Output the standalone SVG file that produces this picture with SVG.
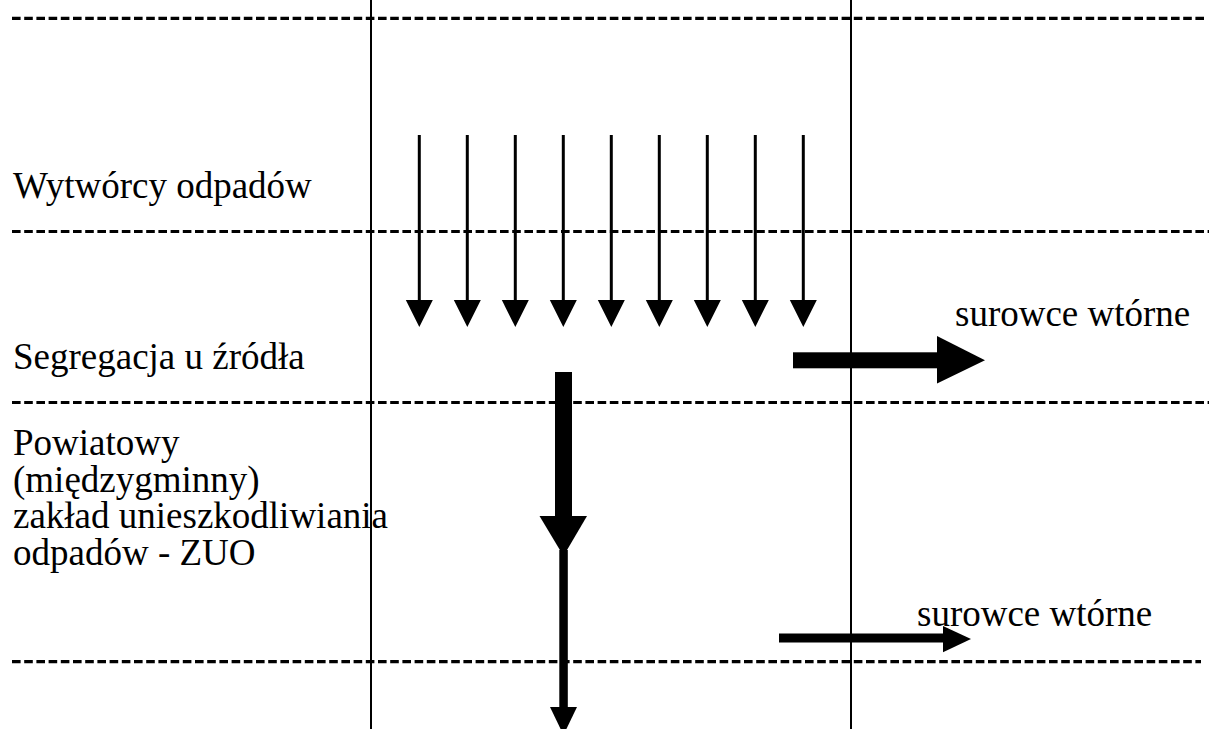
<svg xmlns="http://www.w3.org/2000/svg" width="1209" height="729" viewBox="0 0 1209 729">
<style>
.lbl{font-family:"Liberation Serif","Times New Roman",serif;font-size:37px;fill:#000}
.dash{stroke:#000;stroke-width:3.2;stroke-dasharray:8.6 3.6;fill:none}
.vline{stroke:#000;stroke-width:2;fill:none}
.thin{stroke:#000;stroke-width:3;fill:none}
.head{fill:#000;stroke:none}
</style>
<rect width="1209" height="729" fill="#fff"/>
<g id="grid">
<line class="dash" x1="12" y1="18.3" x2="1206" y2="18.3"/>
<line class="dash" x1="12" y1="231.5" x2="1209" y2="231.5"/>
<line class="dash" x1="12" y1="402.5" x2="1209" y2="402.5"/>
<line class="dash" x1="12" y1="661.7" x2="1201" y2="661.7"/>
<line class="vline" x1="371" y1="0" x2="371" y2="729"/>
<line class="vline" x1="851" y1="0" x2="851" y2="729"/>
</g>
<g id="node-wytworcy"><text class="lbl" x="13" y="198">Wytwórcy odpadów</text></g>
<g id="node-segregacja"><text class="lbl" x="13" y="369">Segregacja u źródła</text></g>
<g id="node-zuo"><text class="lbl" x="13" y="455">Powiatowy<tspan x="13" y="491.7">(międzygminny)</tspan><tspan x="13" y="528.4">zakład unieszkodliwiania</tspan><tspan x="13" y="565">odpadów - ZUO</tspan></text></g>
<g id="node-surowce1"><text class="lbl" x="955" y="326">surowce wtórne</text></g>
<g id="node-surowce2"><text class="lbl" x="917" y="626">surowce wtórne</text></g>
<g id="connectors">
<g id="thin-arrows">
<line class="thin" x1="419.3" y1="135" x2="419.3" y2="301"/><polygon class="head" points="405.8,300 432.8,300 419.3,327"/>
<line class="thin" x1="467.3" y1="135" x2="467.3" y2="301"/><polygon class="head" points="453.8,300 480.8,300 467.3,327"/>
<line class="thin" x1="515.3" y1="135" x2="515.3" y2="301"/><polygon class="head" points="501.8,300 528.8,300 515.3,327"/>
<line class="thin" x1="563.3" y1="135" x2="563.3" y2="301"/><polygon class="head" points="549.8,300 576.8,300 563.3,327"/>
<line class="thin" x1="611.3" y1="135" x2="611.3" y2="301"/><polygon class="head" points="597.8,300 624.8,300 611.3,327"/>
<line class="thin" x1="659.3" y1="135" x2="659.3" y2="301"/><polygon class="head" points="645.8,300 672.8,300 659.3,327"/>
<line class="thin" x1="707.3" y1="135" x2="707.3" y2="301"/><polygon class="head" points="693.8,300 720.8,300 707.3,327"/>
<line class="thin" x1="755.3" y1="135" x2="755.3" y2="301"/><polygon class="head" points="741.8,300 768.8,300 755.3,327"/>
<line class="thin" x1="803.3" y1="135" x2="803.3" y2="301"/><polygon class="head" points="789.8,300 816.8,300 803.3,327"/>
</g>
<g id="main-flow">
<rect x="555" y="372" width="17" height="145" fill="#000"/>
<polygon class="head" points="539.5,516 587,516 563.5,556"/>
<rect x="559.3" y="550" width="8.5" height="158" fill="#000"/>
<polygon class="head" points="550,707 577,707 563.5,735"/>
</g>
<g id="to-surowce1">
<rect x="793" y="352.3" width="145" height="16" fill="#000"/>
<polygon class="head" points="937,336 937,383.5 985,360.3"/>
</g>
<g id="to-surowce2">
<rect x="779" y="633.5" width="165" height="9" fill="#000"/>
<polygon class="head" points="943,626 943,652.3 971,639"/>
</g>
</g>
</svg>
